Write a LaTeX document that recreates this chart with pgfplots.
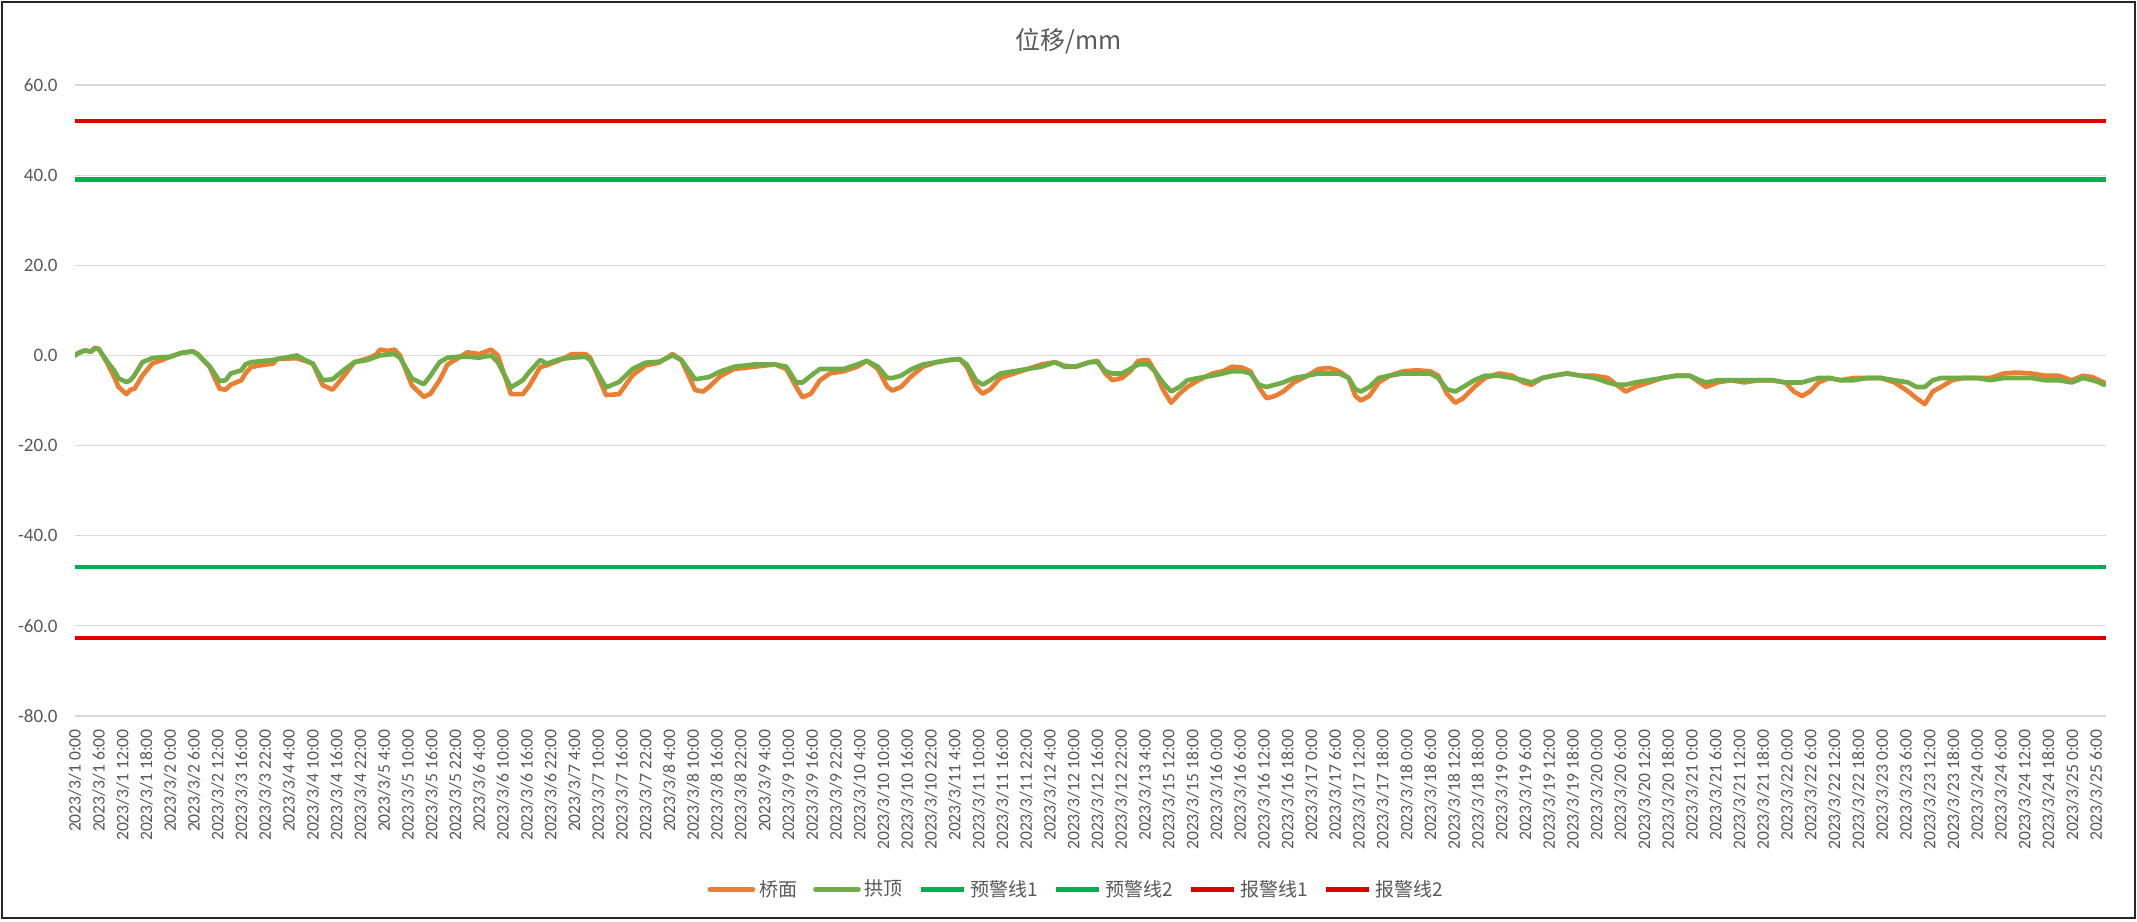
\documentclass[border=0pt]{standalone}
\usepackage{fontspec}
\setmainfont{Carlito}
\newfontfamily\cjk{Noto Sans CJK SC}
\usepackage{pgfplots}
\usepackage{pgfplotstable}
\pgfplotsset{compat=1.18}

\definecolor{qm}{HTML}{ED7D31}
\definecolor{gd}{HTML}{70AD47}
\definecolor{yj}{HTML}{00B050}
\definecolor{bj}{HTML}{E00000}
\definecolor{txt}{HTML}{595959}
\definecolor{gridc}{HTML}{D9D9D9}

% h = hour index (category), qm = 桥面, gd = 拱顶
\pgfplotstableread{
h qm gd
0 0 0
1 0.6 0.6
2.5 1.1 1.1
4 0.9 0.8
5 1.7 1.5
6 1.5 1.4
8 -1.5 -1.2
10 -5 -3.5
11 -7 -5.1
13 -8.6 -5.9
14 -7.6 -5.5
15 -7.4 -4.4
17 -4.5 -1.5
19.5 -1.8 -0.6
21.7 -1.1 -0.4
24 -0.3 -0.3
27 0.6 0.6
29.7 0.9 0.9
31 0.3 0.2
34 -2.6 -2.4
36.5 -7.4 -5.7
38 -7.6 -5.5
39.3 -6.5 -4.0
42 -5.5 -3.3
43 -4 -2.0
44.4 -2.6 -1.5
46.7 -2.2 -1.3
50 -1.8 -1.0
51 -0.8 -0.8
56 -0.6 0
58 -1.2 -1.0
60 -1.8 -1.8
62.5 -6.6 -5.5
65 -7.6 -5.3
68 -4.4 -3.1
70.5 -1.5 -1.5
73.8 -0.7 -1.0
76 0.2 -0.3
77 1.3 0
79 1.0 0.2
80.6 1.3 0.3
82 0 -0.5
85 -6.6 -5.1
88 -9.2 -6.4
89.7 -8.5 -4.5
92 -5.5 -1.5
94 -2 -0.5
96.5 -0.7 -0.3
99 0.7 -0.3
102 0.3 -0.5
105 1.3 0
106.7 0 -1.5
110 -8.6 -7.1
113 -8.6 -5.5
114.6 -6.8 -3.7
117.4 -2.6 -1.0
119 -2.2 -1.8
122.5 -1 -0.8
125.4 0.3 -0.5
128.8 0.3 -0.3
130 -0.5 -1.0
134 -8.8 -7.1
137.3 -8.6 -5.9
140.7 -4.4 -3.0
144 -2.2 -1.6
147.4 -1.6 -1.4
150.8 0.3 0
153 -1 -1.0
156.5 -7.7 -5.3
158.5 -8.0 -5.0
160 -7.0 -4.8
163 -4.5 -3.5
166.4 -3.0 -2.5
171.5 -2.5 -2.0
176.7 -2.0 -2.0
179.5 -3.0 -2.5
182 -7.0 -6.0
183.6 -9.3 -6.0
185.7 -8.5 -4.5
188 -5.5 -3.0
190.5 -4.0 -3.0
194 -3.5 -3.0
197.4 -2.5 -2.0
199.8 -1.2 -1.2
202.6 -3.0 -2.5
205 -7.0 -5.0
206.3 -7.8 -5.0
208.4 -7.0 -4.5
211.2 -4.5 -3.0
214 -2.5 -2.0
217.4 -1.5 -1.5
220.8 -1.0 -1.0
223.2 -0.8 -0.8
225 -2.5 -2.0
227.4 -7.0 -5.5
229 -8.5 -6.5
231 -7.5 -5.5
233.5 -5.0 -4.0
237 -4.0 -3.5
240.4 -3.0 -3.0
243.9 -2.0 -2.5
247.3 -1.5 -1.5
249.7 -2.3 -2.5
252.5 -2.5 -2.5
256 -1.5 -1.5
258 -1.2 -1.5
260 -4.0 -3.5
261.8 -5.5 -4.0
264.2 -5.0 -4.0
266.3 -3.5 -3.0
268.3 -1.2 -2.0
270.8 -1.0 -2.0
272.5 -3.5 -3.5
274.5 -7.5 -6.0
276.6 -10.5 -8.0
278.7 -8.5 -7.0
280.7 -7.0 -5.5
283.5 -5.5 -5.0
287 -4.0 -4.5
289.7 -3.5 -4.0
292 -2.5 -3.5
294.5 -2.7 -3.5
296.6 -3.5 -4.0
298.7 -7.0 -6.5
300.7 -9.5 -7.0
302.8 -9.0 -6.5
304.9 -8.0 -6.0
307.6 -6.0 -5.0
311 -4.5 -4.5
313.8 -3.0 -4.0
316.6 -2.8 -4.0
319 -3.5 -4.0
321.4 -5.0 -5.0
323.1 -9.0 -7.5
324.5 -10.0 -8.0
326.6 -9.0 -7.0
329 -6.0 -5.0
331.7 -4.5 -4.5
335.2 -3.5 -4.0
338.6 -3.3 -4.0
342 -3.5 -4.0
344 -4.5 -5.0
346.2 -8.5 -7.5
348.3 -10.5 -8.0
350.3 -9.5 -7.0
353.1 -7.0 -5.5
355.8 -5.0 -4.5
359.3 -4.0 -4.5
362.7 -4.5 -5.0
365.5 -6.0 -5.5
367.5 -6.5 -6.0
370.3 -5.0 -5.0
373 -4.5 -4.5
376.5 -4.0 -4.0
380 -4.5 -4.5
383.4 -4.5 -5.0
386.8 -5.0 -6.0
389 -6.5 -6.5
391.3 -8.0 -6.5
393.7 -7.0 -6.0
397.2 -6.0 -5.5
400.6 -5.0 -5.0
404 -4.5 -4.5
407.5 -4.5 -4.5
410 -6.0 -5.5
411.6 -7.0 -6.0
414.4 -6.0 -5.5
417.8 -5.5 -5.5
421.3 -6.0 -5.5
424.7 -5.5 -5.5
428.2 -5.5 -5.5
431.6 -6.0 -6.0
433.7 -8.0 -6.0
435.8 -9.0 -6.0
437.8 -8.0 -5.5
440 -6.0 -5.0
442.7 -5.0 -5.0
445.5 -5.5 -5.5
448.9 -5.0 -5.5
452.3 -5.0 -5.0
455.7 -5.0 -5.0
459.2 -6.0 -5.5
462.6 -8.0 -6.0
464.7 -9.5 -7.0
466.8 -10.8 -7.0
468.8 -8.0 -5.5
470.9 -7.0 -5.0
473.7 -5.5 -5.0
476.4 -5.0 -5.0
479.9 -5.0 -5.0
483.3 -5.0 -5.5
486.8 -4.0 -5.0
490.2 -3.8 -5.0
493.6 -4.0 -5.0
497.1 -4.5 -5.5
500.5 -4.5 -5.5
503.9 -5.5 -6.0
506.7 -4.5 -5.0
509.1 -4.8 -5.5
510.8 -5.5 -6.0
512 -6.0 -6.5
}\disp

\begin{document}
\begin{tikzpicture}
\fill[white] (-37.5bp,-103bp) rectangle (1031bp,358bp);
\begin{axis}[
  at={(0,0)}, anchor=south west,
  scale only axis,
  width=1015.5bp, height=315.5bp,
  xmin=0, xmax=512.5,
  ymin=-80, ymax=60,
  axis line style={draw=none},
  major tick length=0pt,
  ymajorgrids,
  grid style={gridc, line width=0.6bp},
  ytick={-80,-60,...,60},
  yticklabels={-80.0,-60.0,-40.0,-20.0,0.0,20.0,40.0,60.0},
  yticklabel style={font=\fontsize{9.5bp}{11bp}\selectfont, text=txt, anchor=east, inner sep=0pt, xshift=-8.5bp},
  xtick={0,6,...,510},
  xticklabels={2023/3/1 0:00,2023/3/1 6:00,2023/3/1 12:00,2023/3/1 18:00,
    2023/3/2 0:00,2023/3/2 6:00,2023/3/2 12:00,2023/3/3 16:00,2023/3/3 22:00,
    2023/3/4 4:00,2023/3/4 10:00,2023/3/4 16:00,2023/3/4 22:00,
    2023/3/5 4:00,2023/3/5 10:00,2023/3/5 16:00,2023/3/5 22:00,
    2023/3/6 4:00,2023/3/6 10:00,2023/3/6 16:00,2023/3/6 22:00,
    2023/3/7 4:00,2023/3/7 10:00,2023/3/7 16:00,2023/3/7 22:00,
    2023/3/8 4:00,2023/3/8 10:00,2023/3/8 16:00,2023/3/8 22:00,
    2023/3/9 4:00,2023/3/9 10:00,2023/3/9 16:00,2023/3/9 22:00,
    2023/3/10 4:00,2023/3/10 10:00,2023/3/10 16:00,2023/3/10 22:00,
    2023/3/11 4:00,2023/3/11 10:00,2023/3/11 16:00,2023/3/11 22:00,
    2023/3/12 4:00,2023/3/12 10:00,2023/3/12 16:00,2023/3/12 22:00,
    2023/3/13 4:00,2023/3/15 12:00,2023/3/15 18:00,
    2023/3/16 0:00,2023/3/16 6:00,2023/3/16 12:00,2023/3/16 18:00,
    2023/3/17 0:00,2023/3/17 6:00,2023/3/17 12:00,2023/3/17 18:00,
    2023/3/18 0:00,2023/3/18 6:00,2023/3/18 12:00,2023/3/18 18:00,
    2023/3/19 0:00,2023/3/19 6:00,2023/3/19 12:00,2023/3/19 18:00,
    2023/3/20 0:00,2023/3/20 6:00,2023/3/20 12:00,2023/3/20 18:00,
    2023/3/21 0:00,2023/3/21 6:00,2023/3/21 12:00,2023/3/21 18:00,
    2023/3/22 0:00,2023/3/22 6:00,2023/3/22 12:00,2023/3/22 18:00,
    2023/3/23 0:00,2023/3/23 6:00,2023/3/23 12:00,2023/3/23 18:00,
    2023/3/24 0:00,2023/3/24 6:00,2023/3/24 12:00,2023/3/24 18:00,
    2023/3/25 0:00,2023/3/25 6:00},
  xticklabel style={yshift=-6.5bp, rotate=90, anchor=east, inner sep=0pt,
    font=\fontsize{8.8bp}{10bp}\selectfont, text=txt},
  title={\cjk 位移/mm},
  title style={at={(0.4894,1)}, anchor=center, yshift=16bp,
    font=\fontsize{12.5bp}{14bp}\selectfont, text=txt},
  legend columns=6,
  legend style={draw=none, fill=none, at={(0.4934,-0.275)}, anchor=center,
    font=\cjk\fontsize{9.5bp}{11bp}\selectfont, text=txt,
    /tikz/every even column/.append style={column sep=6bp},
    nodes={inner xsep=2bp}},
  legend image code/.code={\draw[#1] (0bp,0bp) -- (21.5bp,0bp);},
  every axis plot/.append style={line join=round, line cap=round},
]
\addplot[qm, line width=2.3bp] table[x=h, y=qm] {\disp};
\addlegendentry{桥面}
\addplot[gd, line width=2.3bp] table[x=h, y=gd] {\disp};
\addlegendentry{拱顶}
\addplot[yj, line width=2.2bp, line cap=butt] coordinates {(0,39) (512.5,39)};
\addlegendentry{预警线1}
\addplot[yj, line width=2.2bp, line cap=butt] coordinates {(0,-46.9) (512.5,-46.9)};
\addlegendentry{预警线2}
\addplot[bj, line width=2.2bp, line cap=butt] coordinates {(0,52) (512.5,52)};
\addlegendentry{报警线1}
\addplot[bj, line width=2.2bp, line cap=butt] coordinates {(0,-62.7) (512.5,-62.7)};
\addlegendentry{报警线2}
\end{axis}
\pgfresetboundingbox
\draw[black!85, line width=1bp] (-36.25bp,-101bp) rectangle (1029.75bp,356.75bp);
\path (-37.5bp,-103bp) rectangle (1031bp,358bp);
\end{tikzpicture}
\end{document}
